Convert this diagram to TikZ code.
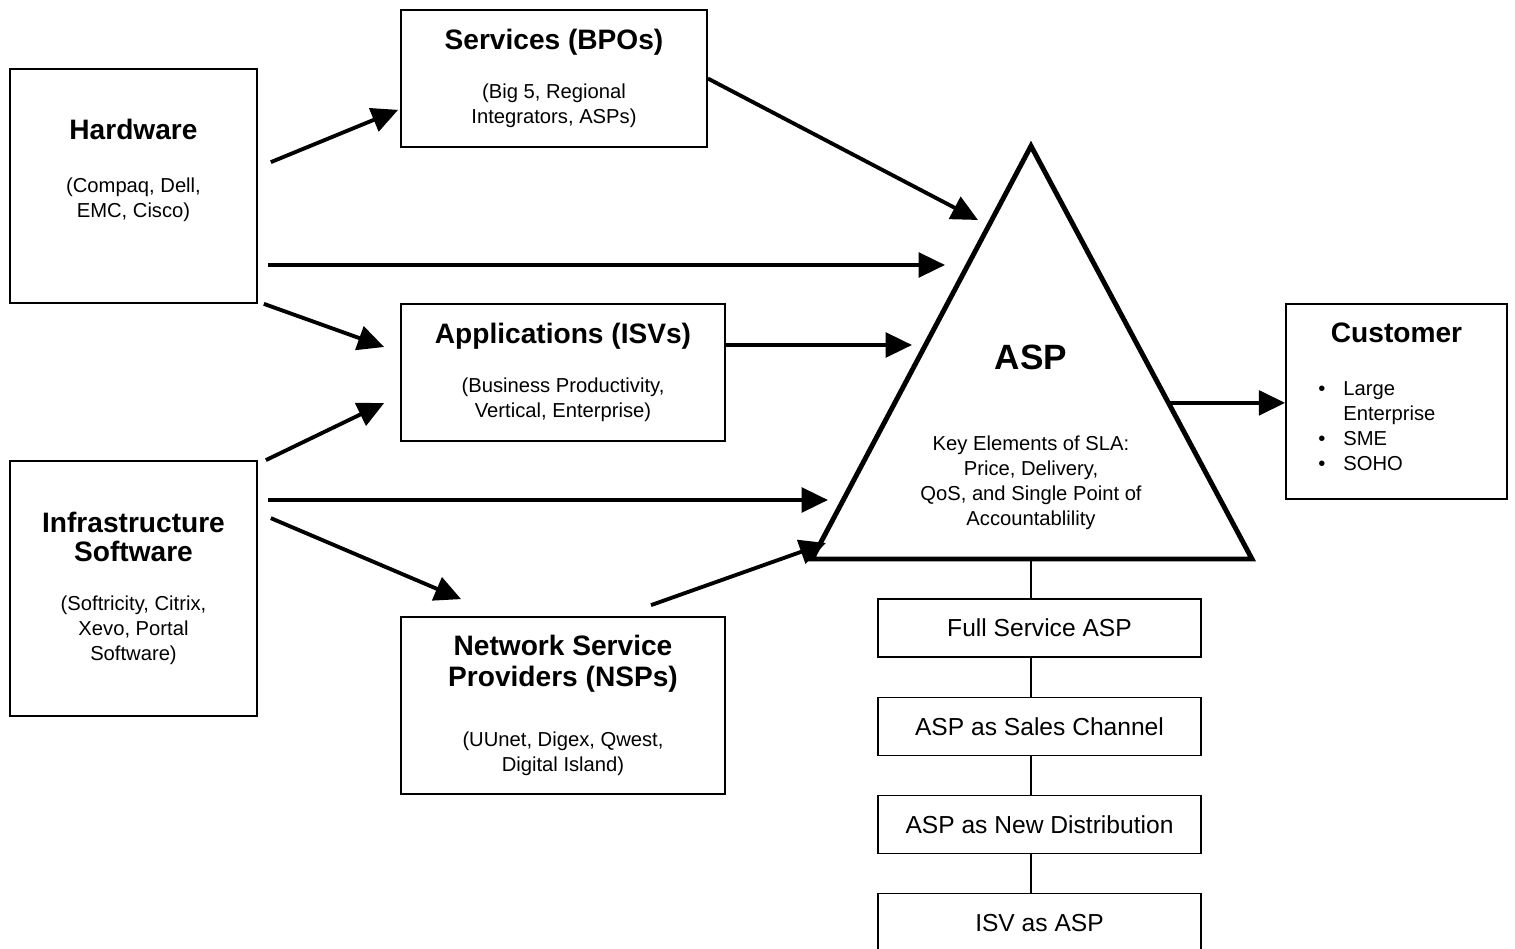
\documentclass[tikz,border=0pt]{standalone}
\usepackage{fontspec}
\setmainfont{Liberation Sans}
\usepackage{tikz}
\usetikzlibrary{calc,positioning,arrows.meta}
\newcommand{\boxtitle}[1]{{\fontsize{16}{18}\selectfont\bfseries #1}}
\newcommand{\custitem}{\makebox[0.5cm][l]{\textbullet}}

\begin{document}
\begin{tikzpicture}[
  x=0.02cm, y=-0.02cm,
  playerbox/.style={
    rectangle, draw, line width=1pt, fill=white,
    align=center, inner sep=0pt,
    font=\fontsize{11.5}{14.2}\selectfont,
  },
  modelbox/.style={
    rectangle, draw, line width=0.7pt,
    minimum width=6.46cm, minimum height=1.16cm,
    font=\fontsize{14}{16}\selectfont,
  },
  flow/.style={line width=2.2pt, -{Triangle[length=15pt,width=14pt]}},
  stem/.style={line width=0.8pt},
]
\useasboundingbox (0,0) rectangle (1515,949);

% suppliers
\node[playerbox, minimum width=4.94cm, minimum height=4.68cm] (hw) at (133.5,186) {
  \boxtitle{Hardware}\\[16pt]
  (Compaq, Dell,\\ EMC, Cisco)\\[6pt]\mbox{}
};
\node[playerbox, minimum width=6.12cm, minimum height=2.74cm] (svc) at (554,78.5) {
  \boxtitle{Services (BPOs)}\\[14pt]
  (Big 5, Regional\\ Integrators, ASPs)
};
\node[playerbox, minimum width=6.48cm, minimum height=2.74cm] (app) at (563,372.5) {
  \boxtitle{Applications (ISVs)}\\[14pt]
  (Business Productivity,\\ Vertical, Enterprise)
};
\node[playerbox, minimum width=4.94cm, minimum height=5.10cm] (inf) at (133.5,588.5) {
  \boxtitle{Infrastructure}\\[2pt]
  \boxtitle{Software}\\[14pt]
  (Softricity, Citrix,\\ Xevo, Portal\\ Software)
};
\node[playerbox, minimum width=6.48cm, minimum height=3.54cm] (nsp) at (563,705.5) {
  \boxtitle{Network Service}\\[3pt]
  \boxtitle{Providers (NSPs)}\\[20pt]
  (UUnet, Digex, Qwest,\\ Digital Island)
};

% ASP triangle
\coordinate (apex) at (1031,146);
\coordinate (bl) at (812,559);
\coordinate (br) at (1252,559);
\draw[line width=2.8pt, fill=white] (apex) -- (bl) -- (br) -- cycle;
\node[font=\fontsize{20}{24}\selectfont\bfseries] (asp) at (1031,357) {ASP};
\node[align=center, font=\fontsize{11.5}{14.2}\selectfont] (sla) at (1031,483) {
  Key Elements of SLA:\\ Price, Delivery,\\ QoS, and Single Point of\\ Accountablility
};

% customer
\node[playerbox, minimum width=4.42cm, minimum height=3.90cm] (cust) at (1396.5,401.5) {};
\node[font=\fontsize{16}{18}\selectfont\bfseries] (custtitle) at (1396.5,333) {Customer};
\node[anchor=north west, align=left, inner sep=0pt, font=\fontsize{11.5}{14.2}\selectfont] (custlist) at (1318,381) {
  \custitem Large\\ \hspace*{0.5cm}Enterprise\\ \custitem SME\\ \custitem SOHO
};

% ASP models
\node[modelbox] (full) at (1039.5,628) {Full Service ASP};
\node[modelbox, below=0.78cm of full] (chan) {ASP as Sales Channel};
\node[modelbox, below=0.78cm of chan] (dist) {ASP as New Distribution};
\node[modelbox, below=0.78cm of dist] (isv) {ISV as ASP};

\draw[stem] (apex |- bl) -- (apex |- full.north);
\foreach \a/\b in {full/chan, chan/dist, dist/isv}
  \draw[stem] (apex |- \a.south) -- (apex |- \b.north);

% flows into the ASP
\coordinate (in-svc) at (978,220);
\coordinate (in-hw) at (945,265);
\coordinate (in-app) at (912,345);
\coordinate (in-inf) at (828,500);
\coordinate (in-nsp) at (826,543);
\coordinate (out-asp) at ($(apex)!0.622!(br)$);

\draw[flow] ([shift={(13,94)}]hw.north east) -- ([shift={(-2,-38)}]svc.south west);
\draw[flow] (svc.east) -- (in-svc);
\draw[flow] ([xshift=6]hw.east |- in-hw) -- (in-hw);
\draw[flow] ([shift={(6,0)}]hw.south east) -- ([shift={(-16,-25.5)}]app.west);
\draw[flow] (app.east |- in-app) -- (in-app);
\draw[flow] ([shift={(8,0)}]inf.north east) -- ([shift={(-16,30.5)}]app.west);
\draw[flow] ([xshift=6]inf.east |- in-inf) -- (in-inf);
\draw[flow] ([shift={(13,58)}]inf.north east) -- ([shift={(61,-17)}]nsp.north west);
\draw[flow] ([shift={(88,-11)}]nsp.north) -- (in-nsp);
\draw[flow] (out-asp) -- (out-asp -| cust.west);

\end{tikzpicture}
\end{document}
